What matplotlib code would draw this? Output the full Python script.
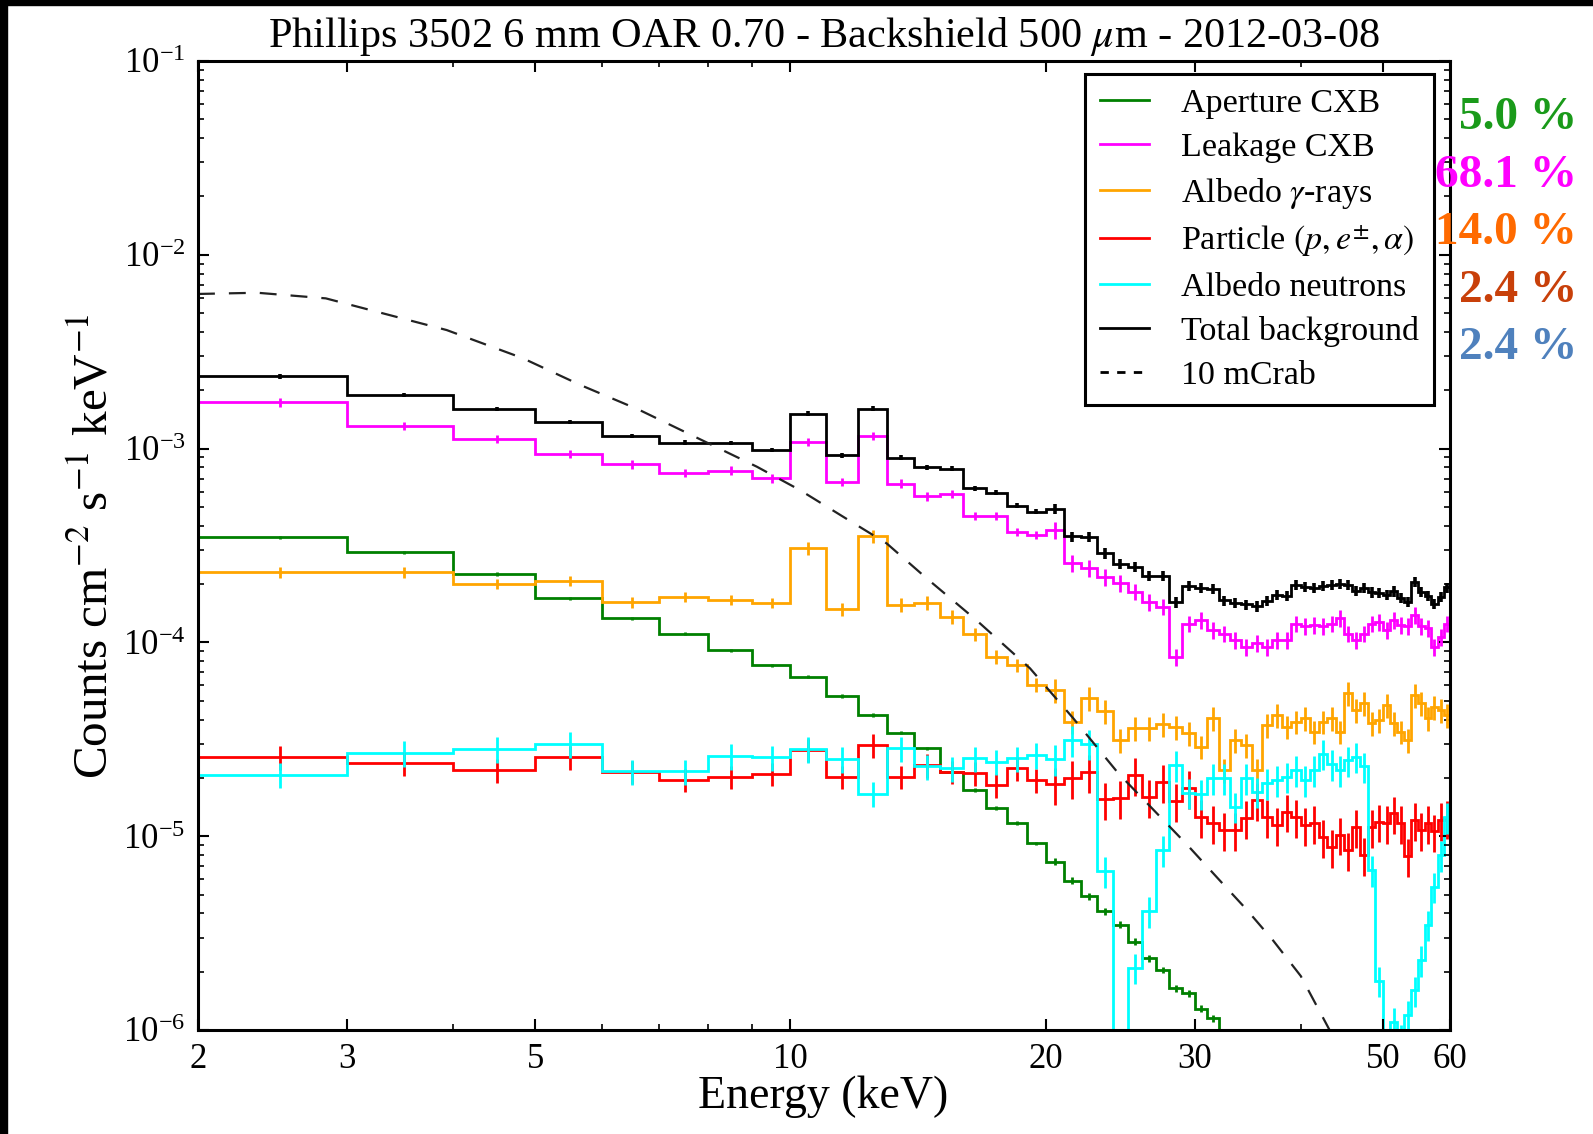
import numpy as np
import matplotlib
matplotlib.use("Agg")
import matplotlib.pyplot as plt
from matplotlib.lines import Line2D
from matplotlib.patches import Rectangle
from matplotlib.ticker import FixedLocator, FixedFormatter, NullFormatter, LogLocator

plt.rcParams['font.family'] = ['Liberation Serif', 'DejaVu Serif']
plt.rcParams['mathtext.fontset'] = 'stix'

# 1 keV energy bins from 2 to 60 keV
bin_edges = list(range(2, 61))

# Background components, counts cm^-2 s^-1 keV^-1 per bin
aperture_cxb = [3.49e-4, 2.92e-4, 2.25e-4, 1.69e-4, 1.33e-4, 1.11e-4, 9.1e-5, 7.6e-5,
                6.65e-5, 5.3e-5, 4.22e-5, 3.42e-5, 2.84e-5, 2.15e-5, 1.73e-5, 1.40e-5,
                1.17e-5, 9.2e-6, 7.4e-6, 5.9e-6, 4.9e-6, 4.1e-6, 3.5e-6, 2.86e-6,
                2.34e-6, 2.04e-6, 1.64e-6, 1.55e-6, 1.29e-6, 1.15e-6, 9.0e-7]

leakage_cxb = [1.73e-3, 1.31e-3, 1.12e-3, 9.4e-4, 8.3e-4, 7.5e-4, 7.7e-4, 7.03e-4,
               1.086e-3, 6.75e-4, 1.16e-3, 6.6e-4, 5.67e-4, 5.84e-4, 4.51e-4, 4.51e-4,
               3.72e-4, 3.58e-4, 3.80e-4, 2.56e-4, 2.41e-4, 2.18e-4, 2.02e-4, 1.83e-4,
               1.62e-4, 1.53e-4, 8.43e-5, 1.25e-4, 1.31e-4, 1.16e-4, 1.11e-4, 1.03e-4,
               9.5e-5, 9.9e-5, 9.5e-5, 1.03e-4, 1.03e-4, 1.25e-4, 1.21e-4, 1.23e-4,
               1.21e-4, 1.25e-4, 1.33e-4, 1.11e-4, 1.03e-4, 1.11e-4, 1.25e-4, 1.27e-4,
               1.16e-4, 1.31e-4, 1.23e-4, 1.21e-4, 1.38e-4, 1.21e-4, 1.18e-4, 9.5e-5,
               1.07e-4, 1.25e-4]

albedo_gamma = [2.30e-4, 2.30e-4, 2.00e-4, 2.07e-4, 1.61e-4, 1.72e-4, 1.65e-4, 1.60e-4,
                3.06e-4, 1.48e-4, 3.54e-4, 1.56e-4, 1.60e-4, 1.36e-4, 1.10e-4, 8.43e-5,
                7.63e-5, 6.03e-5, 5.67e-5, 3.9e-5, 5.14e-5, 4.4e-5, 3.13e-5, 3.6e-5,
                3.6e-5, 3.8e-5, 3.65e-5, 3.4e-5, 2.9e-5, 4.06e-5, 2.2e-5, 3.13e-5,
                2.96e-5, 2.2e-5, 3.75e-5, 4.22e-5, 3.67e-5, 3.9e-5, 4.06e-5, 3.46e-5,
                3.9e-5, 4.06e-5, 3.46e-5, 5.46e-5, 4.48e-5, 4.85e-5, 3.83e-5, 3.98e-5,
                4.76e-5, 3.83e-5, 3.46e-5, 3.13e-5, 5.35e-5, 4.85e-5, 4.06e-5, 4.65e-5,
                4.48e-5, 4.22e-5]

particle = [2.55e-5, 2.38e-5, 2.20e-5, 2.55e-5, 2.15e-5, 1.96e-5, 2.03e-5, 2.10e-5,
            2.80e-5, 2.03e-5, 2.96e-5, 2.03e-5, 2.33e-5, 2.15e-5, 2.11e-5, 1.84e-5,
            2.24e-5, 1.95e-5, 1.85e-5, 2.0e-5, 2.15e-5, 1.55e-5, 1.58e-5, 2.07e-5,
            1.6e-5, 1.91e-5, 1.52e-5, 1.77e-5, 1.26e-5, 1.17e-5, 1.08e-5, 1.08e-5,
            1.24e-5, 1.54e-5, 1.26e-5, 1.14e-5, 1.34e-5, 1.26e-5, 1.14e-5, 1.17e-5,
            9.9e-6, 8.8e-6, 1.02e-5, 8.5e-6, 1.12e-5, 8.0e-6, 1.12e-5, 1.19e-5,
            1.17e-5, 1.31e-5, 1.17e-5, 7.9e-6, 1.21e-5, 1.08e-5, 1.17e-5, 1.06e-5,
            1.21e-5, 1.24e-5]

albedo_neutrons = [2.08e-5, 2.69e-5, 2.82e-5, 2.99e-5, 2.16e-5, 2.16e-5, 2.59e-5, 2.55e-5,
                   2.82e-5, 2.5e-5, 1.66e-5, 2.84e-5, 2.29e-5, 2.24e-5, 2.52e-5, 2.42e-5,
                   2.52e-5, 2.62e-5, 2.5e-5, 3.13e-5, 3.0e-5, 6.6e-6, 7.0e-7, 2.1e-6,
                   4.1e-6, 8.5e-6, 2.33e-5, 1.68e-5, 1.66e-5, 2.0e-5, 2.0e-5, 1.42e-5,
                   2.0e-5, 1.7e-5, 1.88e-5, 1.95e-5, 2.03e-5, 2.2e-5, 1.95e-5, 2.2e-5,
                   2.67e-5, 2.35e-5, 2.2e-5, 2.46e-5, 2.57e-5, 2.29e-5, 6.7e-6, 1.8e-6,
                   8.0e-7, 1.1e-6, 9.0e-7, 1.2e-6, 1.6e-6, 2.3e-6, 3.5e-6, 5.5e-6,
                   8.0e-6, 1.25e-5]

# Fractional 1-sigma errors per bin
err_aperture = [0.02] * 18 + [0.04] * 13
err_leakage = [0.05] * 18 + [0.10] * 40
err_gamma = [0.06] * 8 + [0.08] * 10 + [0.14] * 40
err_particle = [0.14] * 18 + [0.22] * 40
err_neutrons = [0.15] * 18 + [0.18] * 40
err_total = [0.025] * 8 + [0.03] * 10 + [0.06] * 40

# 10 mCrab source spectrum
crab_energy = [2.0, 2.35, 2.83, 3.93, 4.83, 5.65, 6.64, 9.13, 10.26, 11.54, 12.99,
               14.48, 16.58, 19.17, 21.56, 24.35, 27.3, 29.4, 32.0, 34.5, 37.1, 40.0,
               43.0, 46.0]
crab_flux = [6.28e-3, 6.37e-3, 5.96e-3, 4.09e-3, 2.93e-3, 2.13e-3, 1.58e-3, 8.06e-4,
             6.11e-4, 4.45e-4, 3.24e-4, 2.14e-4, 1.30e-4, 7.35e-5, 4.06e-5, 2.12e-5,
             1.26e-5, 9.0e-6, 6.0e-6, 4.2e-6, 2.9e-6, 1.9e-6, 1.05e-6, 6.0e-7]

percent_labels = ["5.0 %", "68.1 %", "14.0 %", "2.4 %", "2.4 %"]
percent_colors = ["#1a9a1a", "#ff00ff", "#ff6a00", "#c8400a", "#4f81bd"]

edges = np.array(bin_edges, dtype=float)
n_bins = len(edges) - 1
aperture_full = np.zeros(n_bins)
aperture_full[:len(aperture_cxb)] = aperture_cxb
total = (aperture_full + np.array(leakage_cxb) + np.array(albedo_gamma)
         + np.array(particle) + np.array(albedo_neutrons))

W, H = 1593, 1134
fig = plt.figure(figsize=(W / 100, H / 100), dpi=100)
ax = fig.add_axes([198 / W, 1 - 1030 / H, 1252 / W, 969 / H])

series = [
    (aperture_cxb, err_aperture, "#008000", 2.0),
    (leakage_cxb, err_leakage, "#ff00ff", 2.0),
    (albedo_gamma, err_gamma, "#ffa500", 2.0),
    (particle, err_particle, "#ff0000", 2.0),
    (albedo_neutrons, err_neutrons, "#00ffff", 2.0),
    (total, err_total, "black", 2.6),
]
for vals, rel, col, lw in series:
    v = np.asarray(vals, dtype=float)
    e = edges[:len(v) + 1]
    centers = 0.5 * (e[:-1] + e[1:])
    ax.stairs(v, e, baseline=None, color=col, lw=2.0)
    ax.errorbar(centers, v, yerr=v * np.asarray(rel), fmt='none', ecolor=col,
                elinewidth=lw, capsize=0)

ax.plot(crab_energy, crab_flux, color="#222222", lw=1.6, linestyle=(0, (7.6, 6.3)))

ax.set_xscale('log')
ax.set_yscale('log')
ax.set_xlim(2, 60)
ax.set_ylim(1e-6, 1e-1)

ax.xaxis.set_major_locator(FixedLocator([2, 3, 5, 10, 20, 30, 50, 60]))
ax.xaxis.set_major_formatter(FixedFormatter(['2', '3', '5', '10', '20', '30', '50', '60']))
ax.xaxis.set_minor_locator(FixedLocator([4, 6, 7, 8, 9, 40]))
ax.xaxis.set_minor_formatter(NullFormatter())
ax.yaxis.set_major_locator(LogLocator(base=10, numticks=10))
ax.yaxis.set_minor_locator(LogLocator(base=10, subs=np.arange(2, 10), numticks=10))
ax.yaxis.set_minor_formatter(NullFormatter())

ax.tick_params(which='both', direction='in', top=True, right=True)
ax.tick_params(which='major', length=8, width=1.5, labelsize=25, pad=9)
ax.tick_params(which='minor', length=4.5, width=1.2)
for sp in ax.spines.values():
    sp.set_linewidth(2.2)

handles = [
    Line2D([], [], color="#008000", lw=2),
    Line2D([], [], color="#ff00ff", lw=2),
    Line2D([], [], color="#ffa500", lw=2),
    Line2D([], [], color="#ff0000", lw=2),
    Line2D([], [], color="#00ffff", lw=2),
    Line2D([], [], color="black", lw=2),
    Line2D([], [], color="black", lw=2, linestyle=(0, (3, 3))),
]
labels = ["Aperture CXB", "Leakage CXB", r"Albedo $\gamma$-rays",
          r"Particle $(p, e^{\pm}, \alpha)$", "Albedo neutrons",
          "Total background", "10 mCrab"]
leg = ax.legend(handles, labels, loc='upper right', bbox_to_anchor=(0.987, 0.9866),
                borderaxespad=0, fontsize=24.5, frameon=True, fancybox=False,
                framealpha=1, edgecolor='black', handlelength=1.45,
                handletextpad=0.95, labelspacing=0.38, borderpad=0.42)
leg.get_frame().set_linewidth(2.2)

fig.text(824 / W, 1 - 36 / H,
         r"Phillips 3502 6 mm OAR 0.70 - Backshield 500 $\mu$m - 2012-03-08",
         ha='center', va='center', fontsize=30.4)
fig.text(823 / W, 1 - 1097 / H, "Energy (keV)", ha='center', va='center', fontsize=33)
fig.text(95 / W, 1 - 546 / H, r"Counts cm$^{-2}$ s$^{-1}$ keV$^{-1}$",
         ha='center', va='center', rotation=90, fontsize=35.5)

for i, (lab, col) in enumerate(zip(percent_labels, percent_colors)):
    fig.text(1577 / W, 1 - (118 + 57.6 * i) / H, lab, ha='right', va='center',
             fontsize=34, fontweight='bold', color=col, zorder=10)

# dark strips along the left and top edges
fig.patches.append(Rectangle((0, 0), 7 / W, 1, transform=fig.transFigure,
                             color='black', zorder=20))
fig.patches.append(Rectangle((0, 1 - 5 / H), 1, 5 / H, transform=fig.transFigure,
                             color='black', zorder=20))

fig.savefig("out.png", dpi=100)
